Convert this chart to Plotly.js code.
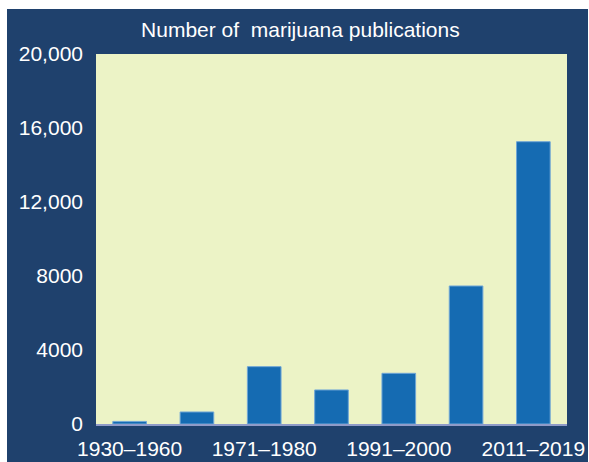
<!DOCTYPE html>
<html>
<head>
<meta charset="utf-8">
<script src="https://cdn.plot.ly/plotly-3.0.1.min.js"></script>
<style>
html,body{margin:0;padding:0;background:#ffffff;}
#chart{position:absolute;left:7px;top:9px;width:581px;height:453px;}
</style>
</head>
<body>
<div id="chart"></div>
<script>
var categories = ["1930–1960","1961–1970","1971–1980","1981–1990","1991–2000","2001–2010","2011–2019"];
var publications = [140, 650, 3100, 1840, 2740, 7460, 15260];
var xTickLabels = ["1930–1960","1971–1980","1991–2000","2011–2019"];
var yTickValues = [0, 4000, 8000, 12000, 16000, 20000];
var yTickLabels = ["0", "4000", "8000", "12,000", "16,000", "20,000"];

var trace = {
  type: "bar",
  x: categories,
  y: publications,
  marker: {color: "#156bb2", line: {color: "#6fa6d6", width: 1}},
  hoverinfo: "x+y"
};

var layout = {
  width: 581,
  height: 453,
  paper_bgcolor: "#1f416d",
  plot_bgcolor: "#ecf3c6",
  margin: {l: 89, r: 21, t: 45, b: 38},
  bargap: 0.5,
  showlegend: false,
  title: {
    text: "Number of\u00a0 marijuana publications",
    font: {family: "Liberation Sans, Arial, sans-serif", size: 21, color: "#ffffff"},
    x: 0.505, xanchor: "center",
    y: 0.955, yanchor: "middle"
  },
  xaxis: {
    type: "category",
    tickmode: "array",
    tickvals: xTickLabels,
    ticktext: xTickLabels,
    showgrid: false,
    zeroline: false,
    showline: true,
    linecolor: "#8f9bc8",
    linewidth: 2,
    ticks: "",
    ticklabelstandoff: 5,
    tickfont: {family: "Liberation Sans, Arial, sans-serif", size: 21, color: "#ffffff"}
  },
  yaxis: {
    range: [0, 20000],
    tickmode: "array",
    tickvals: yTickValues,
    ticktext: yTickLabels,
    showgrid: false,
    zeroline: false,
    showline: false,
    ticks: "",
    ticklabelstandoff: 12,
    tickfont: {family: "Liberation Sans, Arial, sans-serif", size: 21, color: "#ffffff"}
  }
};

Plotly.newPlot("chart", [trace], layout, {displayModeBar: false, staticPlot: true});
</script>
</body>
</html>
